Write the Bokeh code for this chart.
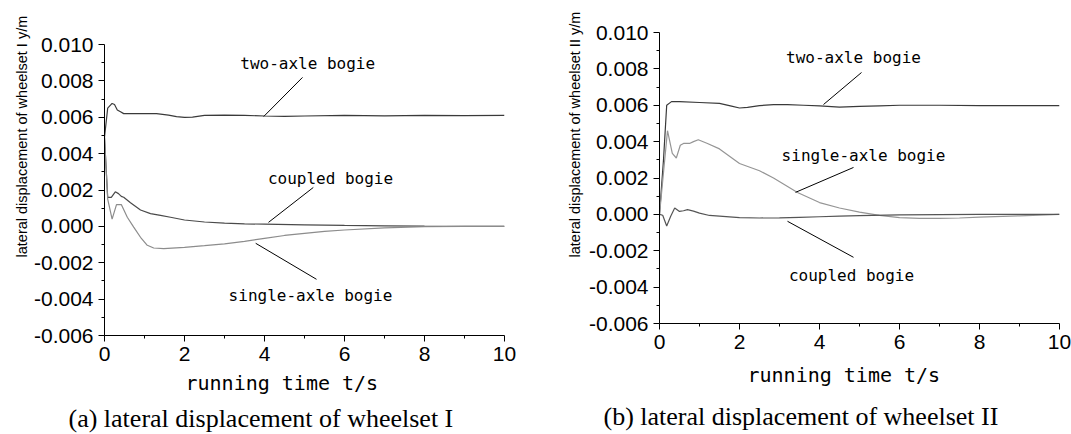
from bokeh.plotting import figure
from bokeh.models import Label, FixedTicker, NumeralTickFormatter, Range1d, Title
from bokeh.layouts import row
from bokeh.embed import file_html
from bokeh.resources import INLINE

# ---------------- data: wheelset I ----------------
t_I_two = [0, 0.08, 0.19, 0.25, 0.32, 0.4, 0.48, 0.6, 0.8, 1.0, 1.3, 1.6, 1.8, 2.0, 2.2, 2.5, 3.0, 3.5, 4.0, 4.5, 5.0, 6.0, 7.0, 8.0, 9.0, 10.0]
y_I_two = [0.0049, 0.0065, 0.00676, 0.0067, 0.0064, 0.0063, 0.0062, 0.0062, 0.0062, 0.0062, 0.0062, 0.00612, 0.00603, 0.00599, 0.00601, 0.0061, 0.00612, 0.0061, 0.00607, 0.00605, 0.00607, 0.0061, 0.00608, 0.0061, 0.00609, 0.0061]

t_I_cpl = [0, 0.08, 0.17, 0.27, 0.35, 0.42, 0.48, 0.65, 0.9, 1.15, 1.4, 1.65, 2.0, 2.5, 3.0, 3.5, 4.0, 5.0, 6.0, 7.0, 8.0, 9.0, 10.0]
y_I_cpl = [0.0049, 0.0016, 0.0016, 0.0019, 0.0018, 0.00165, 0.0016, 0.0013, 0.0009, 0.0007, 0.0006, 0.0005, 0.00035, 0.00024, 0.00018, 0.00014, 0.00012, 0.00008, 0.00005, 0.00003, 0.00001, 0.0, 0.0]

t_I_sgl = [0, 0.08, 0.19, 0.3, 0.42, 0.57, 0.73, 0.9, 1.07, 1.23, 1.48, 2.0, 2.5, 3.0, 3.5, 4.0, 4.5, 5.0, 5.5, 6.0, 7.0, 8.0, 9.0, 10.0]
y_I_sgl = [0.0049, 0.0015, 0.0004, 0.0012, 0.0012, 0.0005, -0.00004, -0.0006, -0.00104, -0.00119, -0.00122, -0.00115, -0.00106, -0.00096, -0.00082, -0.00066, -0.0005, -0.00038, -0.00028, -0.0002, -0.00008, -0.00002, 0.0, 0.0]

# ---------------- data: wheelset II ----------------
t_II_two = [0, 0.1, 0.18, 0.3, 0.5, 1.0, 1.5, 1.8, 2.0, 2.2, 2.5, 2.85, 3.2, 3.6, 4.0, 4.5, 5.0, 5.5, 6.0, 7.0, 8.0, 9.0, 10.0]
y_II_two = [0.0, 0.003, 0.006, 0.0062, 0.0062, 0.00615, 0.0061, 0.00595, 0.00585, 0.00588, 0.00598, 0.00603, 0.00603, 0.006, 0.00597, 0.0059, 0.00594, 0.00597, 0.006, 0.006, 0.00598, 0.00598, 0.00598]

t_II_sgl = [0, 0.1, 0.2, 0.32, 0.42, 0.52, 0.6, 0.75, 0.85, 0.97, 1.2, 1.5, 2.0, 2.5, 2.85, 3.45, 4.0, 4.5, 5.0, 5.5, 6.0, 6.5, 7.0, 7.5, 8.0, 9.0, 10.0]
y_II_sgl = [0.0, 0.0023, 0.0046, 0.00335, 0.0031, 0.0038, 0.0039, 0.0039, 0.004, 0.0041, 0.0039, 0.0036, 0.0028, 0.0024, 0.002, 0.0012, 0.00065, 0.00035, 0.00012, -0.00006, -0.00018, -0.00022, -0.00022, -0.0002, -0.00015, -0.00008, 0.0]

t_II_cpl = [0, 0.08, 0.18, 0.28, 0.38, 0.5, 0.6, 0.7, 0.85, 1.0, 1.25, 1.5, 2.0, 2.5, 3.0, 3.5, 4.0, 4.5, 5.0, 6.0, 7.0, 8.0, 9.0, 10.0]
y_II_cpl = [0.0, -0.00005, -0.00064, -0.0001, 0.00035, 0.00016, 0.0002, 0.00026, 0.00018, 0.00007, -0.00006, -0.0001, -0.00018, -0.0002, -0.00019, -0.00016, -0.00013, -0.0001, -0.00007, -0.00003, -0.00001, 0.0, 0.0, 0.0]

# ---------------- ticks ----------------
x_ticks = [0, 2, 4, 6, 8, 10]
x_minor = [1, 3, 5, 7, 9]
y_ticks = [-0.006, -0.004, -0.002, 0.0, 0.002, 0.004, 0.006, 0.008, 0.010]
y_minor = [-0.005, -0.003, -0.001, 0.001, 0.003, 0.005, 0.007, 0.009]

# ---------------- texts ----------------
x_label = "running time t/s"
y_label_I = "lateral displacement of wheelset I  y/m"
y_label_II = "lateral displacement of wheelset II  y/m"
caption_I = "(a) lateral displacement of wheelset  I"
caption_II = "(b) lateral displacement of wheelset  II"

ann_I_names = ["two-axle bogie", "coupled bogie", "single-axle bogie"]
ann_I_text_xy = [(5.08, 0.00896), (5.65, 0.00264), (5.15, -0.0038)]
ann_I_lead = [(4.95, 0.00819, 3.98, 0.00604), (5.22, 0.00214, 4.1, 0.00022), (5.3, -0.00291, 3.78, -0.00093)]

ann_II_names = ["two-axle bogie", "single-axle bogie", "coupled bogie"]
ann_II_text_xy = [(4.85, 0.00863), (5.1, 0.00324), (4.8, -0.00335)]
ann_II_lead = [(5.05, 0.0078, 4.1, 0.00604), (4.85, 0.00258, 3.4, 0.00121), (4.85, -0.00236, 3.2, -0.00038)]

MONO = "DejaVu Sans Mono"


def make_fig(width, bl, bt, br, bb):
    p = figure(width=width, height=434, x_range=Range1d(0, 10), y_range=Range1d(-0.006, 0.010),
               output_backend="svg", toolbar_location=None,
               min_border_left=bl, min_border_top=bt, min_border_right=br, min_border_bottom=bb)
    try:
        p.frame_align = False
    except Exception:
        pass
    p.outline_line_color = None
    p.grid.visible = False
    p.background_fill_color = "white"
    p.border_fill_color = "white"
    p.xaxis.ticker = FixedTicker(ticks=x_ticks, minor_ticks=x_minor)
    p.yaxis.ticker = FixedTicker(ticks=y_ticks, minor_ticks=y_minor)
    p.yaxis.formatter = NumeralTickFormatter(format="0.000")
    for ax in (p.xaxis[0], p.yaxis[0]):
        ax.axis_line_color = "black"
        ax.axis_line_width = 1
        ax.major_tick_line_color = "black"
        ax.minor_tick_line_color = "black"
        ax.major_tick_out = 6
        ax.major_tick_in = 0
        ax.minor_tick_out = 3
        ax.minor_tick_in = 0
        ax.major_label_text_font = "Liberation Sans"
        ax.major_label_text_font_size = "21px"
        ax.major_label_text_color = "black"
        ax.major_label_standoff = 5
    return p


def add_texts(p, names, txy, leads):
    for name, (tx, ty), (x0, y0, x1, y1) in zip(names, txy, leads):
        p.add_layout(Label(x=tx, y=ty, text=name, text_align="center", text_baseline="middle",
                           text_font=MONO, text_font_size="16px", text_color="black"))
        p.segment(x0=[x0], y0=[y0], x1=[x1], y1=[y1], line_color="black", line_width=1)


def add_side_texts(p, ylab, ylab_off, ylab_standoff, xlab_off, xlab_standoff, cap, cap_off, cap_standoff):
    p.add_layout(Title(text=ylab, align="left", offset=ylab_off, standoff=ylab_standoff,
                       vertical_align="middle", text_font="Liberation Sans", text_font_size="14.5px",
                       text_font_style="normal", text_color="black"), "left")
    p.add_layout(Title(text=x_label, align="left", offset=xlab_off, standoff=xlab_standoff,
                       vertical_align="middle", text_font=MONO, text_font_size="20px",
                       text_font_style="normal", text_color="black"), "below")
    p.add_layout(Title(text=cap, align="left", offset=cap_off, standoff=cap_standoff,
                       vertical_align="middle", text_font="Liberation Serif", text_font_size="26px",
                       text_font_style="normal", text_color="black"), "below")


# ---------------- figure (a) ----------------
p1 = make_fig(540, 104, 44, 36, 99)
p1.line(t_I_two, y_I_two, line_color="#3a3a3a", line_width=1.2)
p1.line(t_I_cpl, y_I_cpl, line_color="#4a4a4a", line_width=1.2)
p1.line(t_I_sgl, y_I_sgl, line_color="#8c8c8c", line_width=1.2)
add_texts(p1, ann_I_names, ann_I_text_xy, ann_I_lead)
add_side_texts(p1, y_label_I, 78, 0, 81, 13, caption_I, -36, 0)

# ---------------- figure (b) ----------------
p2 = make_fig(531, 119, 32, 12, 111)
p2.line(t_II_two, y_II_two, line_color="#3a3a3a", line_width=1.2)
p2.line(t_II_sgl, y_II_sgl, line_color="#959595", line_width=1.2)
p2.line(t_II_cpl, y_II_cpl, line_color="#555555", line_width=1.2)
add_texts(p2, ann_II_names, ann_II_text_xy, ann_II_lead)
add_side_texts(p2, y_label_II, 66, 4, 88, 20, caption_II, -56, 6)

layout = row(p1, p2)
open("out.html", "w").write(file_html(layout, INLINE))
